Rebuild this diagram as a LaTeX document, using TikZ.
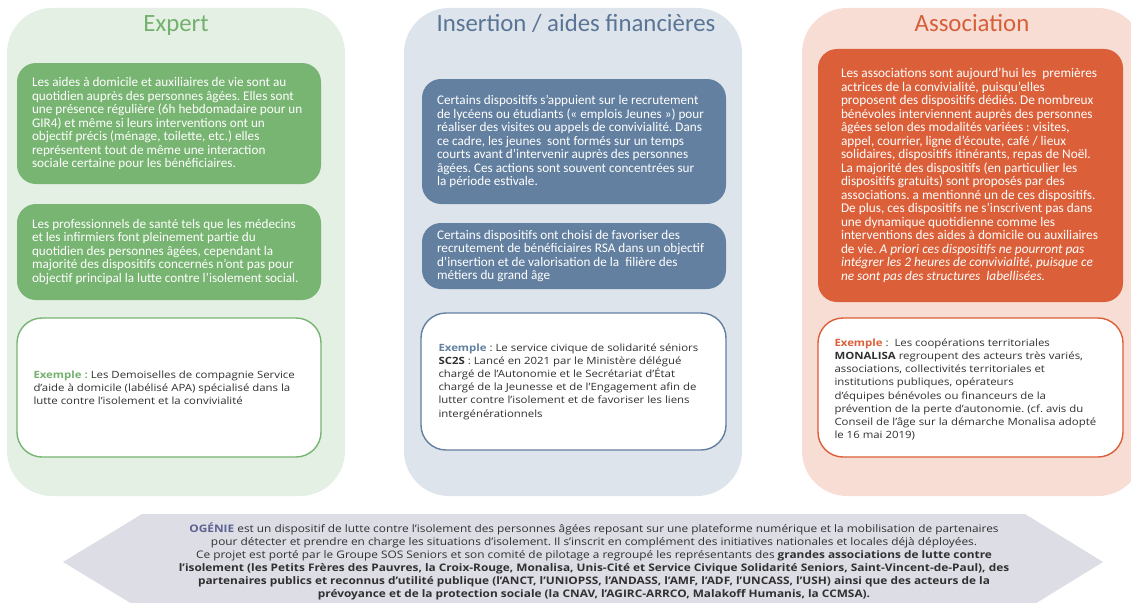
\documentclass[tikz,border=0pt]{standalone}
\usepackage{fontspec}
\setmainfont{Carlito}
\newfontfamily\exfont[FakeStretch=1.14]{Open Sans}
\frenchspacing
\definecolor{expbg}{HTML}{E3F0E3}
\definecolor{expfill}{HTML}{78B472}
\definecolor{exptitle}{HTML}{74B06E}
\definecolor{insbg}{HTML}{DEE4EC}
\definecolor{insfill}{HTML}{6380A0}
\definecolor{institle}{HTML}{5A7495}
\definecolor{assbg}{HTML}{F8DDD5}
\definecolor{assfill}{HTML}{DB5F38}
\definecolor{asstitle}{HTML}{D65E39}
\definecolor{hexbg}{HTML}{DDDDE6}
\definecolor{ogenie}{HTML}{5C6290}
\definecolor{extxt}{HTML}{303030}
\tikzset{
  colbg/.style={rounded corners=45pt},
  title/.style={font=\fontsize{24.8}{28}\selectfont, inner sep=0pt, anchor=base},
  fillbox/.style={rounded corners=19pt, inner sep=0pt},
  exbox/.style={rounded corners=25pt, fill=white, line width=1.4pt, inner sep=0pt},
  filltext/.style={anchor=west, align=left, text=white, inner sep=0pt, font=\fontsize{13.2}{13.5}\selectfont},
  extext/.style={anchor=west, align=left, text=extxt, inner sep=0pt, font=\exfont\fontsize{10}{13.2}\selectfont},
}
\begin{document}
\begin{tikzpicture}[x=1pt,y=-1pt]
\useasboundingbox (0,0) rectangle (1131,602);
\clip (0,0) rectangle (1131,602);
% column backgrounds
\fill[expbg, colbg] (7,8) rectangle (345,496);
\fill[insbg, colbg] (404,8) rectangle (742,496);
\fill[assbg, colbg] (802,8) rectangle (1143,496);
% titles
\node[title, text=exptitle] (t1) at (176,32) {Expert};
\node[title, text=institle] (t2) at (576,32) {Insertion / aides financières};
\node[title, text=asstitle] (t3) at (972,32) {Association};
% Expert
\node[fillbox, fill=expfill, minimum width=304pt, minimum height=121pt] (e1) at (169,123.5) {};
\node[filltext] (e1t) at ([xshift=15pt]e1.west) {Les aides à domicile et auxiliaires de vie sont au\\
quotidien auprès des personnes âgées. Elles sont\\
une présence régulière (6h hebdomadaire pour un\\
GIR4) et même si leurs interventions ont un\\
objectif précis (ménage, toilette, etc.) elles\\
représentent tout de même une interaction\\
sociale certaine pour les bénéficiaires.};
\node[fillbox, fill=expfill, minimum width=304pt, minimum height=96pt] (e2) at (169,252) {};
\node[filltext] (e2t) at ([xshift=15pt]e2.west) {Les professionnels de santé tels que les médecins\\
et les infirmiers font pleinement partie du\\
quotidien des personnes âgées, cependant la\\
majorité des dispositifs concernés n’ont pas pour\\
objectif principal la lutte contre l’isolement social.};
\node[exbox, draw=expfill, minimum width=304pt, minimum height=139pt] (e3) at (169,387.5) {};
\node[extext] (e3t) at ([xshift=17pt]e3.west) {\textcolor{exptitle}{\bfseries Exemple :} Les Demoiselles de compagnie Service\\
d’aide à domicile (labélisé APA) spécialisé dans la\\
lutte contre l’isolement et la convivialité};
% Insertion
\node[fillbox, fill=insfill, minimum width=304pt, minimum height=125pt] (i1) at (574,141.5) {};
\node[filltext] (i1t) at ([xshift=15pt]i1.west) {Certains dispositifs s’appuient sur le recrutement\\
de lycéens ou étudiants (« emplois Jeunes ») pour\\
réaliser des visites ou appels de convivialité. Dans\\
ce cadre, les jeunes \ sont formés sur un temps\\
courts avant d’intervenir auprès des personnes\\
âgées. Ces actions sont souvent concentrées sur\\
la période estivale.};
\node[fillbox, fill=insfill, minimum width=304pt, minimum height=66pt] (i2) at (574,256) {};
\node[filltext] (i2t) at ([xshift=15pt]i2.west) {Certains dispositifs ont choisi de favoriser des\\
recrutement de bénéficiaires RSA dans un objectif\\
d’insertion et de valorisation de la \ filière des\\
métiers du grand âge};
\node[exbox, draw=insfill, minimum width=305pt, minimum height=137pt] (i3) at (573.5,381.5) {};
\node[extext] (i3t) at ([xshift=18pt]i3.west) {\textcolor{insfill}{\bfseries Exemple} : Le service civique de solidarité séniors\\
\textbf{SC2S} : Lancé en 2021 par le Ministère délégué\\
chargé de l’Autonomie et le Secrétariat d’État\\
chargé de la Jeunesse et de l’Engagement afin de\\
lutter contre l’isolement et de favoriser les liens\\
intergénérationnels};
% Association
\node[fillbox, fill=assfill, minimum width=305pt, minimum height=253pt] (a1) at (970.5,175.5) {};
\node[filltext, font=\fontsize{13.3}{13.5}\selectfont] (a1t) at ([xshift=23pt]a1.west) {Les associations sont aujourd’hui les \ premières\\
actrices de la convivialité, puisqu’elles\\
proposent des dispositifs dédiés. De nombreux\\
bénévoles interviennent auprès des personnes\\
âgées selon des modalités variées : visites,\\
appel, courrier, ligne d’écoute, café / lieux\\
solidaires, dispositifs itinérants, repas de Noël.\\
La majorité des dispositifs (en particulier les\\
dispositifs gratuits) sont proposés par des\\
associations. a mentionné un de ces dispositifs.\\
De plus, ces dispositifs ne s’inscrivent pas dans\\
une dynamique quotidienne comme les\\
interventions des aides à domicile ou auxiliaires\\
de vie. \textit{A priori ces dispositifs ne pourront pas}\\
\textit{intégrer les 2 heures de convivialité, puisque ce}\\
\textit{ne sont pas des structures \ labellisées.}};
\node[exbox, draw=assfill, minimum width=305pt, minimum height=139pt] (a2) at (970.5,387.5) {};
\node[extext] (a2t) at ([xshift=17pt, yshift=-2pt]a2.west) {\textcolor{assfill}{\bfseries Exemple} : \ Les coopérations territoriales\\
\textbf{MONALISA} regroupent des acteurs très variés,\\
associations, collectivités territoriales et\\
institutions publiques, opérateurs\\
d’équipes bénévoles ou financeurs de la\\
prévention de la perte d’autonomie. (cf. avis du\\
Conseil de l’âge sur la démarche Monalisa adopté\\
le 16 mai 2019)};
% bottom banner
\fill[hexbg] (63,562) -- (142,514) -- (1025,514) -- (1103,562) -- (1025,610) -- (142,610) -- cycle;
\node[align=center, text=extxt, font=\exfont\fontsize{10.4}{13}\selectfont, inner sep=0pt] (og) at (594,561) {\textcolor{ogenie}{\bfseries OGÉNIE} est un dispositif de lutte contre l’isolement des personnes âgées reposant sur une plateforme numérique et la mobilisation de partenaires\\
pour détecter et prendre en charge les situations d’isolement. Il s’inscrit en complément des initiatives nationales et locales déjà déployées.\\
Ce projet est porté par le Groupe SOS Seniors et son comité de pilotage a regroupé les représentants des \textbf{grandes associations de lutte contre}\\
\textbf{l’isolement (les Petits Frères des Pauvres, la Croix-Rouge, Monalisa, Unis-Cité et Service Civique Solidarité Seniors, Saint-Vincent-de-Paul), des}\\
\textbf{partenaires publics et reconnus d’utilité publique (l’ANCT, l’UNIOPSS, l’ANDASS, l’AMF, l’ADF, l’UNCASS, l’USH) ainsi que des acteurs de la}\\
\textbf{prévoyance et de la protection sociale (la CNAV, l’AGIRC-ARRCO, Malakoff Humanis, la CCMSA).}};
\end{tikzpicture}
\end{document}
